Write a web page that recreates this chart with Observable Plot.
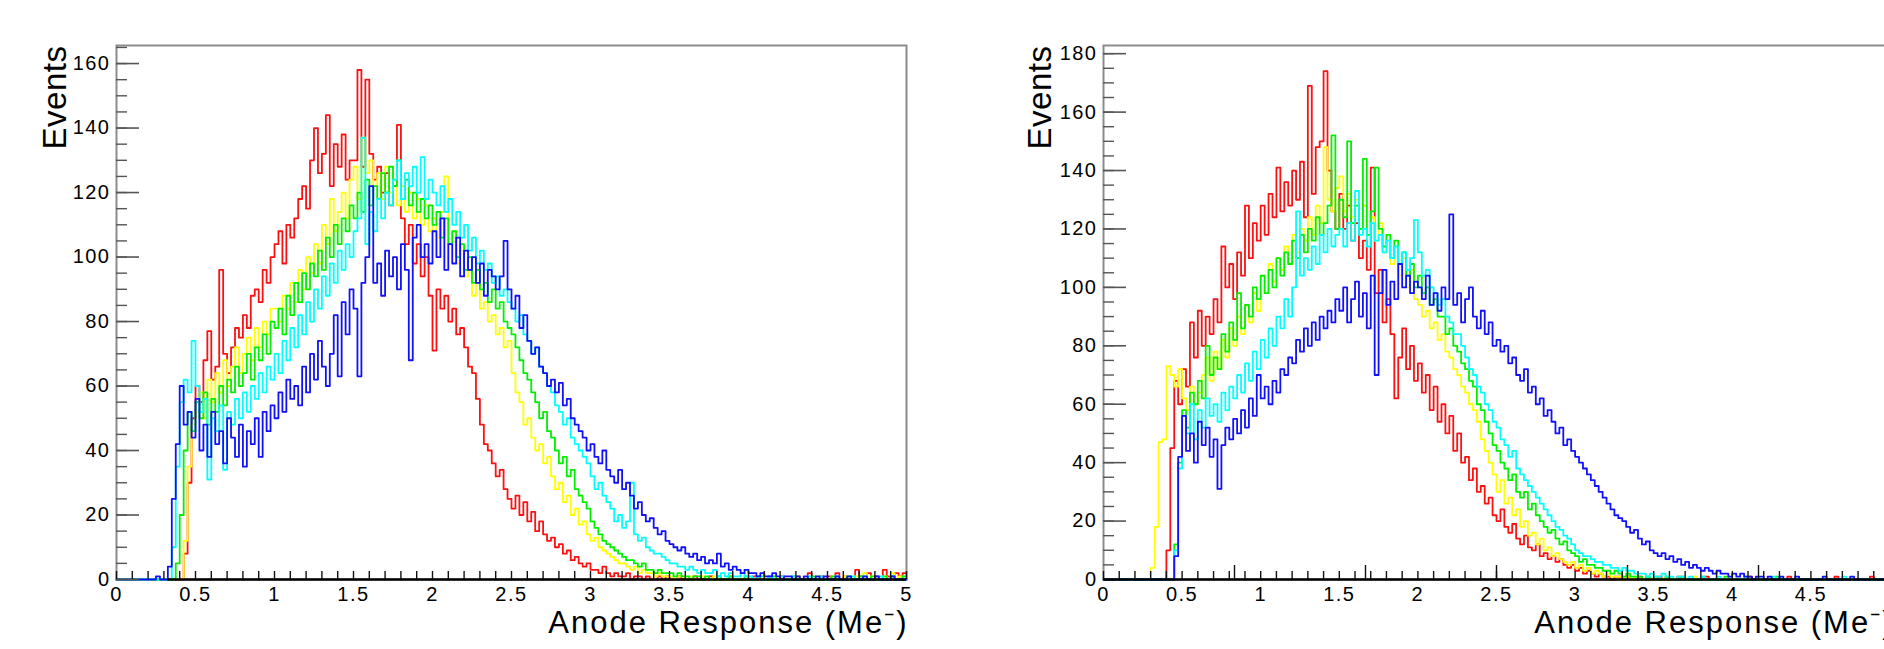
<!DOCTYPE html>
<html>
<head>
<meta charset="utf-8">
<script src="https://cdn.jsdelivr.net/npm/d3@7"></script>
<script src="https://cdn.jsdelivr.net/npm/@observablehq/plot@0.6"></script>
<style>
html, body { margin: 0; padding: 0; background: #fff; overflow: hidden; width: 1884px; height: 649px; }
#wrap { position: relative; width: 1884px; height: 649px; overflow: hidden; background: #fff; }
#wrap svg { position: absolute; top: 0; max-width: none !important; }
g[font-size="20"] text { letter-spacing: 1.5px; }
g[font-size="31"] text { letter-spacing: 2px; }
g[font-size="33"] text { letter-spacing: 0.5px; }
</style>
</head>
<body>
<div id="wrap"></div>
<script>
// ---- data: histogram bin contents, bin width 0.025 Me-, bins 0..199 covering 0..5 ----
const binWidth = 0.025;
const seriesColors = ["#ff1010", "#ffff00", "#00f000", "#00ffff", "#1010ff"]; // red, yellow, green, cyan, blue

const leftRed = [
  0,0,0,0,0,0,0,0,0,0, 0,0,0,0,0,0,0,8,30,50,
  60,55,68,77,62,66,96,70,64,72, 78,75,82,78,88,90,86,96,92,100,
  104,108,98,110,106,112,118,122,115,130, 140,126,132,144,122,135,128,138,124,130,
  130,158,128,155,132,124,128,120,126,116, 122,141,112,104,110,98,104,94,100,88,
  71,90,84,88,80,84,76,78,72,66, 64,56,48,42,40,36,32,34,28,25,
  22,26,20,24,18,21,15,18,14,12, 13,10,11,8,9,6,7,5,4,5,
  3,3,2,4,2,1,2,1,1,2, 0,1,1,0,1,0,0,1,0,1,
  0,0,1,0,0,0,1,0,0,0, 1,0,0,0,0,1,0,0,0,0,
  0,1,0,0,0,1,0,0,1,0, 0,0,1,0,0,2,0,0,1,0,
  1,0,2,0,1,0,0,3,1,0, 2,0,1,0,3,1,0,2,1,2
];
const leftYellow = [
  0,0,0,0,0,0,0,0,0,0, 0,0,0,0,0,0,0,12,35,48,
  52,58,50,62,55,64,58,68,60,66, 72,64,70,75,68,78,72,80,76,84,
  84,80,88,84,92,86,96,90,100,95, 104,98,110,104,118,108,114,120,112,124,
  128,118,137,126,130,122,126,118,128,120, 124,116,122,114,120,112,118,110,116,108,
  112,106,114,125,104,108,98,102,94,96, 88,92,84,86,80,82,76,78,72,74,
  64,58,55,48,50,44,40,42,36,38, 32,28,30,24,26,20,22,17,18,14,
  12,13,10,9,8,7,6,5,5,4, 3,4,2,3,2,2,1,2,1,1,
  1,0,1,1,0,1,0,0,1,0, 0,1,0,0,0,1,0,0,0,0,
  0,0,1,0,0,0,0,1,0,0, 0,0,1,0,0,0,0,1,0,0,
  0,1,0,0,1,0,0,1,0,2, 0,1,0,0,1,0,2,0,1,0
];
const leftGreen = [
  0,0,0,0,0,0,0,0,0,0, 0,0,0,0,0,5,20,40,52,46,
  55,50,58,48,56,52,60,54,62,58, 66,60,64,70,62,72,68,76,70,80,
  78,84,76,88,82,92,86,95,90,98, 94,102,96,106,100,110,104,112,108,116,
  112,120,114,124,116,122,118,126,120,128, 122,130,118,124,116,120,114,118,112,116,
  110,114,106,112,104,108,100,104,96,100, 92,96,90,92,86,90,84,86,80,78,
  76,72,68,64,62,58,55,50,52,46, 44,40,36,38,32,34,28,26,24,22,
  18,16,14,12,11,10,9,8,7,6, 6,5,4,5,3,3,2,3,2,2,
  2,1,2,1,1,0,1,1,0,1, 0,0,1,0,0,1,0,0,0,1,
  0,0,1,0,0,0,1,0,0,0, 0,1,0,0,0,0,1,0,0,0,
  0,1,0,0,0,1,0,0,1,0, 0,1,0,0,1,0,1,0,0,1
];
const leftCyan = [
  0,0,0,0,0,0,0,0,0,0, 0,0,0,0,10,35,55,62,58,74,
  60,52,56,31,50,46,54,34,52,48, 56,50,58,52,60,56,64,58,66,62,
  70,64,74,68,78,72,82,76,86,80, 90,84,94,88,98,92,102,96,104,100,
  108,112,137,104,114,108,118,112,120,116, 124,130,118,126,122,128,120,131,118,124,
  120,116,122,114,118,110,114,106,110,102, 106,98,102,96,98,92,94,88,90,86,
  84,80,82,76,74,70,72,66,64,60, 58,54,52,48,50,44,42,40,38,36,
  32,28,30,26,24,22,18,20,16,18, 30,14,12,13,10,9,8,8,7,6,
  5,5,4,4,3,4,3,2,3,2, 2,3,1,2,1,2,1,1,2,1,
  1,0,1,1,0,1,0,0,1,0, 0,1,0,0,0,1,0,0,1,0,
  0,0,1,0,0,0,1,0,0,1, 0,0,0,1,0,0,1,0,0,0
];
const leftBlue = [
  0,0,0,0,0,0,0,0,0,0, 1,0,0,4,25,42,60,48,52,44,
  56,40,48,38,52,42,46,36,50,44, 38,48,35,46,42,50,38,52,46,54,
  50,58,52,62,56,60,54,66,58,70, 62,74,66,60,70,82,63,86,76,90,
  84,63,92,100,122,92,98,88,102,94, 100,90,104,96,68,106,110,100,104,98,
  108,100,112,96,104,98,106,94,102,96, 100,92,98,88,96,94,90,94,105,90,
  84,88,78,82,74,70,72,66,64,60, 62,58,61,54,56,50,48,46,44,40,
  42,38,36,40,34,32,30,34,28,30, 26,22,24,20,18,19,16,14,15,12,
  11,10,9,10,8,7,8,6,7,5, 6,5,8,4,5,3,4,3,2,3,
  2,2,1,2,1,1,2,1,0,1, 1,0,1,0,1,0,0,1,0,1,
  0,0,1,0,0,1,0,0,0,1, 0,0,1,0,0,0,1,0,0,0
];

const rightRed = [
  0,0,0,0,0,0,0,0,0,0, 0,0,0,0,0,0,10,45,68,60,
  72,66,88,76,92,80,90,84,96,88, 114,100,108,96,112,104,128,110,122,116,
  128,118,132,124,141,126,136,128,140,130, 143,124,169,132,148,150,174,140,126,120,
  132,120,128,116,122,110,116,106,141,98, 106,88,96,84,62,76,86,72,80,68,
  74,64,70,58,66,54,60,50,56,44, 50,40,42,34,38,30,32,26,28,22,
  20,24,18,16,19,14,12,15,11,10, 12,8,9,7,8,6,7,5,4,5,
  3,4,2,3,2,1,2,1,1,0, 1,1,0,1,0,0,1,0,0,0,
  0,1,0,0,0,0,1,0,0,0, 0,0,0,1,0,0,0,0,0,0,
  0,0,0,0,1,0,0,0,0,0, 0,0,0,0,1,0,0,0,0,0,
  0,0,0,0,0,0,1,0,0,0, 0,0,0,0,0,1,0,0,0,0
];
const rightYellow = [
  0,0,0,0,0,0,0,0,0,0, 0,0,4,18,47,48,73,70,66,72,
  62,58,66,60,64,70,76,68,78,72, 82,76,86,80,90,84,94,88,98,92,
  104,98,108,102,110,106,114,108,118,112, 120,116,124,118,128,122,148,130,126,134,
  138,126,132,124,130,120,128,118,124,116, 122,112,118,108,114,104,110,100,106,96,
  94,90,92,86,88,82,84,78,76,72, 70,66,64,60,58,54,48,44,40,36,
  30,34,26,28,22,24,18,20,15,16, 12,14,10,11,8,9,7,6,5,6,
  4,5,3,4,2,3,2,1,2,1, 1,1,0,1,0,1,0,0,1,0,
  0,0,0,1,0,0,0,0,0,0, 1,0,0,0,0,0,0,0,0,0,
  0,0,0,0,0,0,0,0,0,0, 0,0,0,0,0,0,0,0,0,0,
  0,0,0,0,0,0,0,0,0,0, 0,0,0,0,0,0,0,0,0,0
];
const rightGreen = [
  0,0,0,0,0,0,0,0,0,0, 0,0,0,0,0,0,0,0,12,40,
  58,52,64,60,68,62,80,70,76,72, 84,78,88,82,98,86,94,90,100,96,
  104,98,106,100,110,104,112,108,116,110, 118,112,120,116,124,118,122,128,152,120,
  130,124,150,122,128,120,144,118,126,141, 120,114,118,110,116,108,112,104,108,100,
  104,98,100,94,96,90,90,84,86,80, 78,74,72,68,66,60,58,54,50,46,
  44,40,38,34,36,30,28,30,24,26, 22,20,18,16,17,14,12,13,10,9,
  8,6,7,5,5,4,4,3,3,2, 3,2,1,2,1,1,1,0,1,0,
  1,0,0,1,0,0,0,1,0,0, 0,0,1,0,0,0,0,0,1,0,
  0,0,0,0,0,0,0,0,0,0, 0,1,0,0,0,0,0,0,0,0,
  0,0,0,0,0,0,0,0,0,0, 0,0,0,0,0,0,0,0,0,0
];
const rightCyan = [
  0,0,0,0,0,0,0,0,0,0, 0,0,0,0,0,0,0,0,10,38,
  56,50,60,48,58,52,62,56,60,54, 64,58,66,62,70,64,74,68,78,72,
  82,76,86,80,90,86,96,90,100,126, 104,110,106,114,108,118,112,120,114,118,
  120,114,122,116,133,118,120,114,122,116, 118,112,116,110,114,108,112,106,110,123,
  112,104,106,100,98,94,96,90,88,84, 84,80,76,72,70,66,64,60,58,54,
  52,48,46,42,44,38,36,34,32,30, 28,26,24,22,20,18,17,15,14,12,
  10,9,8,8,7,6,6,5,5,4, 4,3,4,3,3,2,2,2,1,2,
  1,1,2,1,1,0,1,1,0,1, 0,0,1,0,0,0,1,0,0,0,
  0,0,0,1,0,0,0,0,0,0, 1,0,0,0,0,0,0,0,0,0,
  0,0,0,0,0,0,0,0,1,0, 0,0,0,0,0,0,0,0,0,0
];
const rightBlue = [
  0,0,0,0,0,0,0,0,0,0, 0,0,0,0,0,0,0,0,8,42,
  56,44,50,40,54,46,52,42,48,31, 46,52,48,55,50,58,52,62,56,70,
  62,66,60,68,64,72,70,76,74,82, 78,86,80,88,82,90,86,92,88,96,
  92,100,88,96,102,90,98,86,104,70, 98,106,94,102,96,108,100,104,98,102,
  100,96,104,94,98,92,100,96,125,94, 98,88,96,100,90,86,92,84,88,80,
  82,78,80,74,76,70,68,72,64,66, 60,62,56,58,54,50,52,46,48,44,
  42,40,38,36,34,32,30,28,26,24, 22,21,20,18,16,17,14,12,13,10,
  9,8,9,7,8,6,7,5,6,4, 5,4,3,4,3,2,3,2,2,1,
  2,1,2,1,1,0,1,1,0,1, 0,0,1,0,0,0,1,0,0,0,
  0,0,0,1,0,0,0,0,0,0, 1,0,0,0,0,0,0,0,0,0
];

// ---- tick labels ----
const xTickValues = [0, 0.5, 1, 1.5, 2, 2.5, 3, 3.5, 4, 4.5, 5];
const xTickLabels = ["0", "0.5", "1", "1.5", "2", "2.5", "3", "3.5", "4", "4.5", "5"];
const xTickValuesRight = [0, 0.5, 1, 1.5, 2, 2.5, 3, 3.5, 4, 4.5]; // "5" lies beyond the picture edge
const xTickLabelsRight = ["0", "0.5", "1", "1.5", "2", "2.5", "3", "3.5", "4", "4.5"];
const yTickLeft = [0, 20, 40, 60, 80, 100, 120, 140, 160];
const yTickLeftLabels = ["0", "20", "40", "60", "80", "100", "120", "140", "160"];
const yTickRight = [0, 20, 40, 60, 80, 100, 120, 140, 160, 180];
const yTickRightLabels = ["0", "20", "40", "60", "80", "100", "120", "140", "160", "180"];
const rightExtraTicks = [5/6, 10/6, 15/6, 20/6, 25/6];
const xTitle = "Anode Response (Me\u207B)";
const yTitle = "Events";

// ---- drawing ----
const H = 649, TOP = 45, BOTTOM = 579;
const plotH = BOTTOM - TOP;

function histPoints(values) {
  const pts = values.map((v, i) => ({x: i * binWidth, y: v}));
  pts.push({x: values.length * binWidth, y: values[values.length - 1]});
  return pts;
}

function panel(cfg) {
  const plotW = cfg.width - cfg.marginLeft - cfg.marginRight;
  const yMinor = d3.range(0, cfg.yMax, 5);
  const xMinor = d3.range(0, 51).map(i => i / 10);
  const marks = [];
  marks.push(Plot.frame({stroke: "#8c8c8c", strokeWidth: 2}));
  cfg.series.forEach((s, k) => {
    marks.push(Plot.line(histPoints(s), {x: "x", y: "y", curve: "step-after", stroke: seriesColors[k], strokeWidth: 1.8}));
  });
  // y ticks (inward)
  marks.push(Plot.tickY(yMinor, {y: d => d, insetRight: plotW - 11, stroke: "#555", strokeWidth: 1.4}));
  marks.push(Plot.tickY(cfg.yMajor, {y: d => d, insetRight: plotW - 23, stroke: "#555", strokeWidth: 1.6}));
  // x ticks (inward, upward)
  marks.push(Plot.tickX(xMinor, {x: d => d, insetTop: plotH - 8, stroke: "#111", strokeWidth: 1.4}));
  if (cfg.extraTicks) marks.push(Plot.tickX(cfg.extraTicks, {x: d => d, insetTop: plotH - 14, stroke: "#111", strokeWidth: 1.4}));
  // baseline
  marks.push(Plot.ruleY([{y: 0, x1: cfg.baselineStart, x2: 5}], {y: "y", x1: "x1", x2: "x2", stroke: "#000", strokeWidth: 2.6}));
  // labels
  marks.push(Plot.text(cfg.xValues, {x: d => d, text: (d, i) => cfg.xLabels[i], frameAnchor: "bottom", dy: 21, fontSize: 20, fill: "#000"}));
  marks.push(Plot.text(cfg.yMajor, {y: d => d, text: (d, i) => cfg.yLabels[i], frameAnchor: "left", textAnchor: "end", dx: -6, fontSize: 20, fill: "#000"}));
  marks.push(Plot.text([xTitle], {text: d => d, frameAnchor: "bottom-right", textAnchor: "end", dx: cfg.titleDx, dy: 53, fontSize: 31, fill: "#000"}));
  marks.push(Plot.text([yTitle], {text: d => d, frameAnchor: "top-left", rotate: -90, textAnchor: "end", dx: cfg.yTitleDx, dy: 0, fontSize: 33, fill: "#000"}));

  const svg = Plot.plot({
    width: cfg.width,
    height: H,
    marginTop: TOP,
    marginBottom: H - BOTTOM,
    marginLeft: cfg.marginLeft,
    marginRight: cfg.marginRight,
    x: {domain: [0, 5], axis: null},
    y: {domain: [0, cfg.yMax], axis: null},
    style: {fontFamily: "'Liberation Sans', Arial, Helvetica, sans-serif", background: "transparent", overflow: "visible"},
    marks
  });
  svg.style.left = cfg.left + "px";
  return svg;
}

const wrap = document.getElementById("wrap");
const firstRise = leftBlue.findIndex(v => v > 3) * binWidth;

wrap.appendChild(panel({
  series: [leftRed, leftYellow, leftGreen, leftCyan, leftBlue],
  yMax: 165.6, yMajor: yTickLeft, yLabels: yTickLeftLabels,
  xValues: xTickValues, xLabels: xTickLabels,
  width: 940, marginLeft: 116, marginRight: 34, left: 0,
  baselineStart: firstRise, titleDx: 2, yTitleDx: -74, extraTicks: null
}));
wrap.appendChild(panel({
  series: [rightRed, rightYellow, rightGreen, rightCyan, rightBlue],
  yMax: 182.8, yMajor: yTickRight, yLabels: yTickRightLabels,
  xValues: xTickValuesRight, xLabels: xTickLabelsRight,
  width: 960, marginLeft: 163, marginRight: 11, left: 940,
  baselineStart: 0, titleDx: 5, yTitleDx: -76, extraTicks: rightExtraTicks
}));
</script>
</body>
</html>
